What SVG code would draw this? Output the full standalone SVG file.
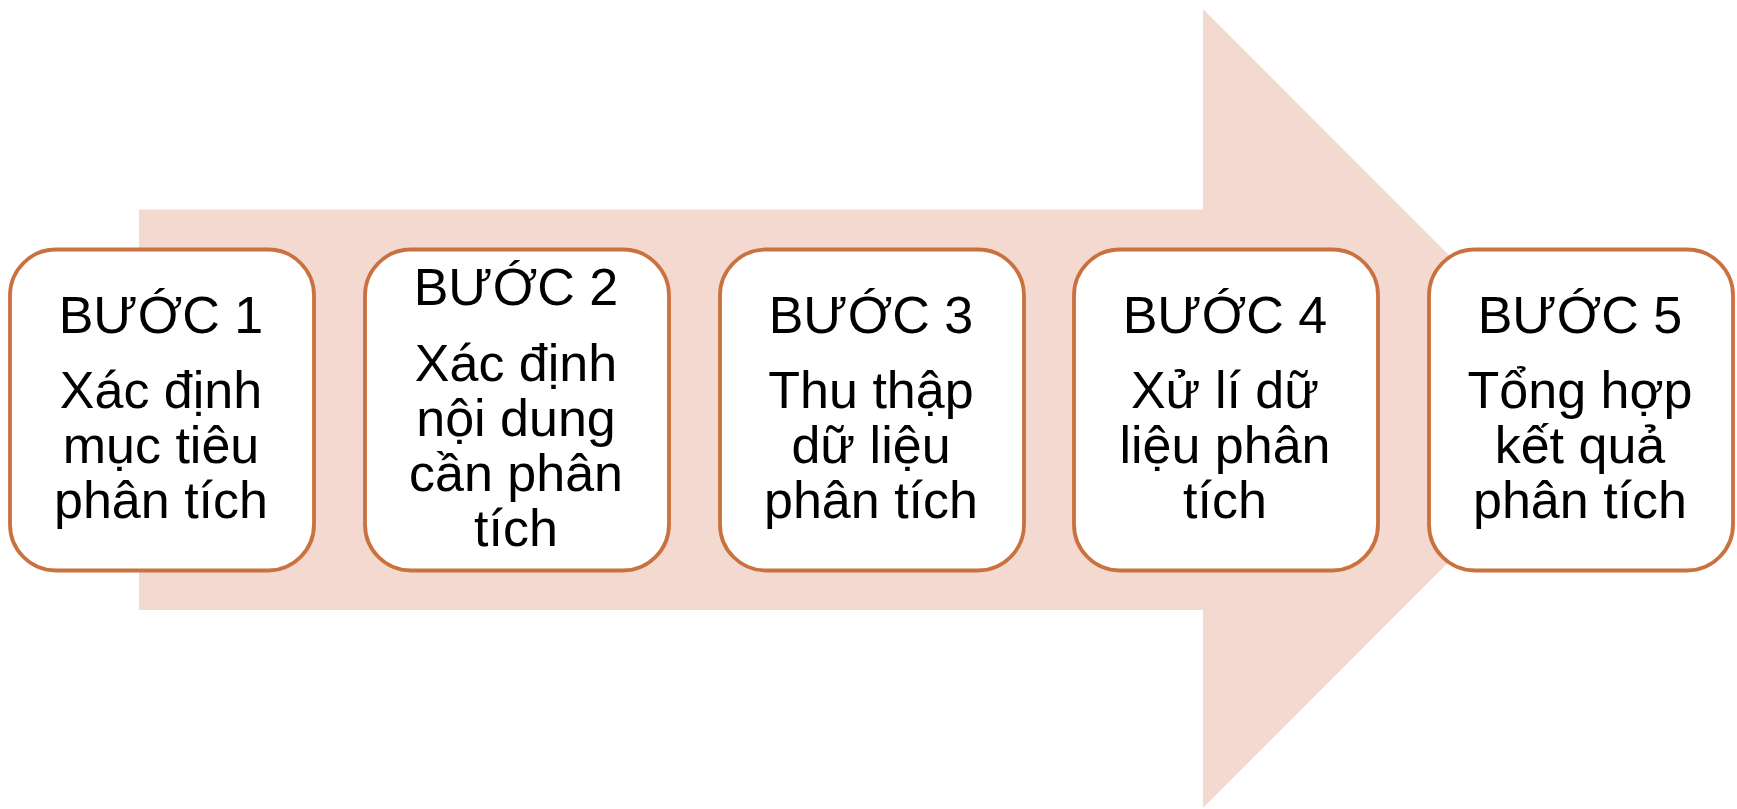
<svg xmlns="http://www.w3.org/2000/svg" width="1737" height="809" viewBox="0 0 1737 809">
  <style>
    .step rect { fill: #FFFFFF; stroke: #C9713F; stroke-width: 3.8; }
    .step text { font-family: "Liberation Sans", Arial, sans-serif; font-size: 52px; fill: #000000; text-anchor: middle; }
  </style>
  <rect width="1737" height="809" fill="#FFFFFF"/>

  <!-- large background block arrow -->
  <g id="connectors">
    <polygon points="139,209.5 1203,209.5 1203,9 1602,408.5 1203,808 1203,610 139,610" fill="#F3D9D0"/>
  </g>

  <g id="step1" class="step">
    <rect x="10" y="249.5" width="304" height="321" rx="46" ry="46"/>
    <text x="161" y="333">BƯỚC 1</text>
    <text x="161" y="408">Xác định</text>
    <text x="161" y="463">mục tiêu</text>
    <text x="161" y="518">phân tích</text>
  </g>

  <g id="step2" class="step">
    <rect x="365" y="249.5" width="304" height="321" rx="46" ry="46"/>
    <text x="516" y="305">BƯỚC 2</text>
    <text x="516" y="381">Xác định</text>
    <text x="516" y="436">nội dung</text>
    <text x="516" y="491">cần phân</text>
    <text x="516" y="546">tích</text>
  </g>

  <g id="step3" class="step">
    <rect x="720" y="249.5" width="304" height="321" rx="46" ry="46"/>
    <text x="871" y="333">BƯỚC 3</text>
    <text x="871" y="408">Thu thập</text>
    <text x="871" y="463">dữ liệu</text>
    <text x="871" y="518">phân tích</text>
  </g>

  <g id="step4" class="step">
    <rect x="1074" y="249.5" width="304" height="321" rx="46" ry="46"/>
    <text x="1225" y="333">BƯỚC 4</text>
    <text x="1225" y="408">Xử lí dữ</text>
    <text x="1225" y="463">liệu phân</text>
    <text x="1225" y="518">tích</text>
  </g>

  <g id="step5" class="step">
    <rect x="1429" y="249.5" width="304" height="321" rx="46" ry="46"/>
    <text x="1580" y="333">BƯỚC 5</text>
    <text x="1580" y="408">Tổng hợp</text>
    <text x="1580" y="463">kết quả</text>
    <text x="1580" y="518">phân tích</text>
  </g>
</svg>
